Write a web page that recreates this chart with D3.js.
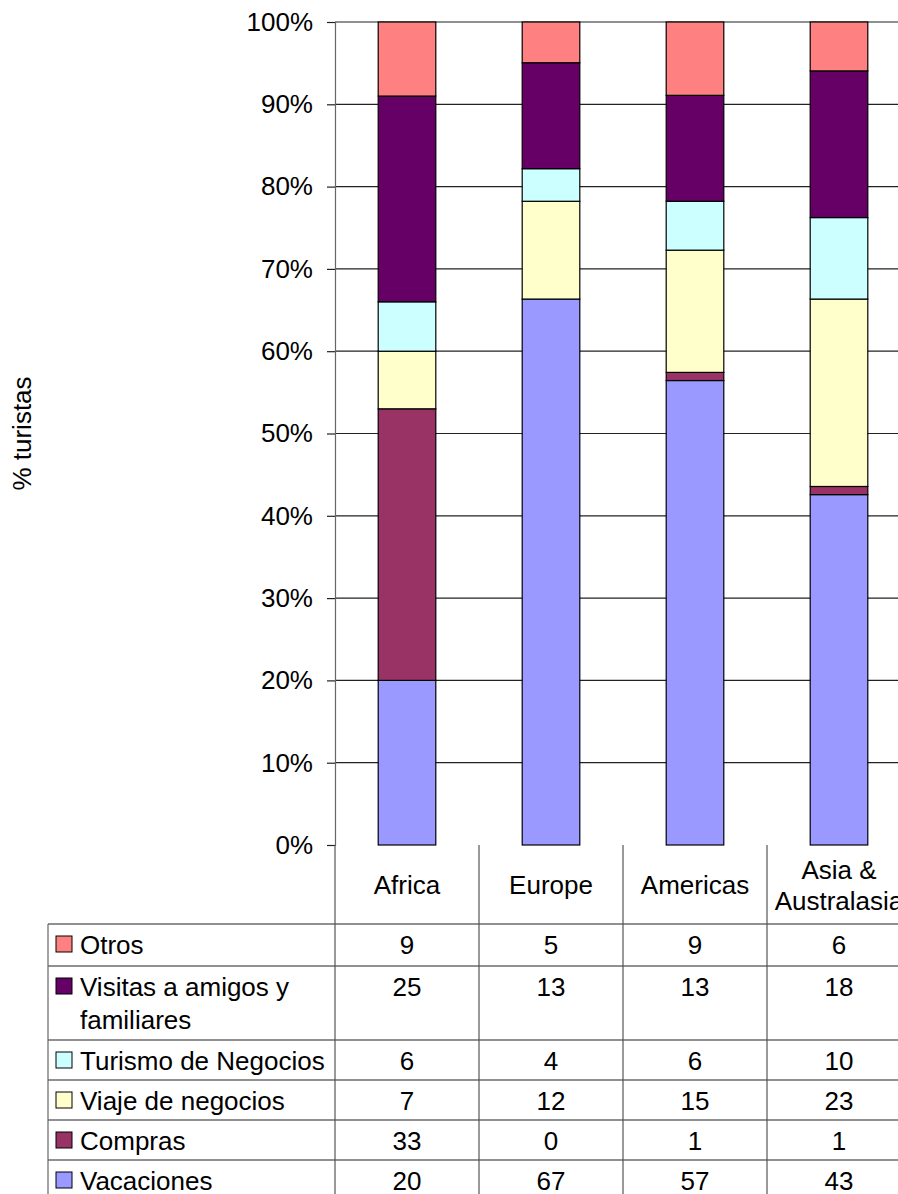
<!DOCTYPE html>
<html>
<head>
	<meta charset='utf-8'>
	<script src="https://cdnjs.cloudflare.com/ajax/libs/d3/7.8.5/d3.min.js"></script>
	<style>
	body { margin:0; background:#fff; }
	text { font-family:'Liberation Sans', Arial, sans-serif; font-size:26px; fill:#000; }
	</style>
</head>
<body>
<script>
	var regions = ['Africa', 'Europe', 'Americas', 'Asia & Australasia'];
	var regionLines = [['Africa'], ['Europe'], ['Americas'], ['Asia &', 'Australasia']];
	var motives = ['Vacaciones', 'Compras', 'Viaje de negocios', 'Turismo de Negocios', 'Visitas a amigos y familiares', 'Otros'];
	var motiveLines = [['Vacaciones'], ['Compras'], ['Viaje de negocios'], ['Turismo de Negocios'], ['Visitas a amigos y', 'familiares'], ['Otros']];
	var colors = ['#9999ff', '#993366', '#ffffcc', '#ccffff', '#660066', '#ff8080'];

	var vacaciones = [20, 67, 57, 43],
		compras = [33, 0, 1, 1],
		viaje = [7, 12, 15, 23],
		turismo = [6, 4, 6, 10],
		visitas = [25, 13, 13, 18],
		otros = [9, 5, 9, 6];
	var series = [vacaciones, compras, viaje, turismo, visitas, otros];
	var yTicks = [0, 0.1, 0.2, 0.3, 0.4, 0.5, 0.6, 0.7, 0.8, 0.9, 1];

	var width = 898, height = 1194;
	var plot = {left:335, top:22, bottom:845, width:576};

	var svg = d3.select('body').append('svg').attr('width', width).attr('height', height);

	var x = d3.scaleBand().domain(regions).range([plot.left, plot.left + plot.width]).paddingInner(0.6).paddingOuter(0.3);
	var band = d3.scaleBand().domain(regions).range([plot.left, plot.left + plot.width]);
	var y = d3.scaleLinear().domain([0, 1]).range([plot.bottom, plot.top]);

	// stacked data, normalised to 100%
	var rows = regions.map(function (r, i) {
		var o = {region:r};
		motives.forEach(function (m, j) { o[m] = series[j][i]; });
		return o;
	});
	var stacked = d3.stack().keys(motives).offset(d3.stackOffsetExpand)(rows);

	// gridlines
	svg.append('g').selectAll('line').data(yTicks.slice(1)).enter().append('line')
		.attr('x1', plot.left).attr('x2', plot.left + plot.width)
		.attr('y1', function (d) { return y(d); }).attr('y2', function (d) { return y(d); })
		.attr('stroke', '#222').attr('stroke-width', 1.2);

	// bars
	svg.append('g').selectAll('g').data(stacked).enter().append('g')
		.attr('fill', function (d, i) { return colors[i]; })
		.selectAll('rect').data(function (d) { return d; }).enter().append('rect')
		.attr('x', function (d) { return x(d.data.region); })
		.attr('width', x.bandwidth())
		.attr('y', function (d) { return y(d[1]); })
		.attr('height', function (d) { return y(d[0]) - y(d[1]); })
		.attr('stroke', '#000').attr('stroke-width', 1.2);

	// y axis
	var yAxis = d3.axisLeft(y).tickValues(yTicks).tickFormat(d3.format('.0%')).tickSize(8).tickPadding(14);
	var ya = svg.append('g').attr('transform', 'translate(' + plot.left + ',0)').call(yAxis);
	ya.attr('font-size', null).attr('font-family', null);
	ya.select('.domain').attr('stroke', '#666').attr('stroke-width', 1.2);
	ya.selectAll('.tick line').attr('stroke', '#222').attr('stroke-width', 1.2);

	svg.append('text').attr('transform', 'translate(31,' + ((plot.top + plot.bottom) / 2) + ') rotate(-90)')
		.attr('text-anchor', 'middle').text('% turistas');

	// data table
	var rowEdges = [924, 966, 1040, 1080, 1120, 1160, 1202];
	var tableLeft = 48;
	var order = [5, 4, 3, 2, 1, 0];
	var table = svg.append('g');

	table.selectAll('.hline').data(rowEdges).enter().append('line')
		.attr('x1', tableLeft).attr('x2', plot.left + plot.width)
		.attr('y1', function (d) { return d; }).attr('y2', function (d) { return d; })
		.attr('stroke', '#222').attr('stroke-width', 1.2);
	table.append('line').attr('x1', tableLeft).attr('x2', tableLeft).attr('y1', rowEdges[0]).attr('y2', height)
		.attr('stroke', '#666').attr('stroke-width', 1.2);
	table.selectAll('.vline').data(regions).enter().append('line')
		.attr('x1', function (d) { return band(d); }).attr('x2', function (d) { return band(d); })
		.attr('y1', plot.bottom).attr('y2', height)
		.attr('stroke', '#555').attr('stroke-width', 1.2);

	// header
	table.selectAll('.head').data(regions).enter().append('text')
		.attr('text-anchor', 'middle')
		.each(function (d, i) {
			var lines = regionLines[i];
			var t = d3.select(this);
			var cx = band(d) + band.bandwidth() / 2;
			var y0 = (plot.bottom + rowEdges[0]) / 2 + 9 - (lines.length - 1) * 15;
			lines.forEach(function (l, k) { t.append('tspan').attr('x', cx).attr('y', y0 + k * 31).text(l); });
		});

	// rows
	order.forEach(function (j, r) {
		var top = rowEdges[r];
		var base = top + 30;
		table.append('rect').attr('x', 56).attr('y', base - 18).attr('width', 16).attr('height', 16)
			.attr('fill', colors[j]).attr('stroke', '#000').attr('stroke-width', 1);
		var lbl = table.append('text');
		motiveLines[j].forEach(function (l, k) { lbl.append('tspan').attr('x', 80).attr('y', base + k * 33).text(l); });
		table.selectAll(null).data(regions).enter().append('text')
			.attr('text-anchor', 'middle')
			.attr('x', function (d) { return band(d) + band.bandwidth() / 2; })
			.attr('y', base)
			.text(function (d, i) { return series[j][i]; });
	});
</script>
</body>
</html>
